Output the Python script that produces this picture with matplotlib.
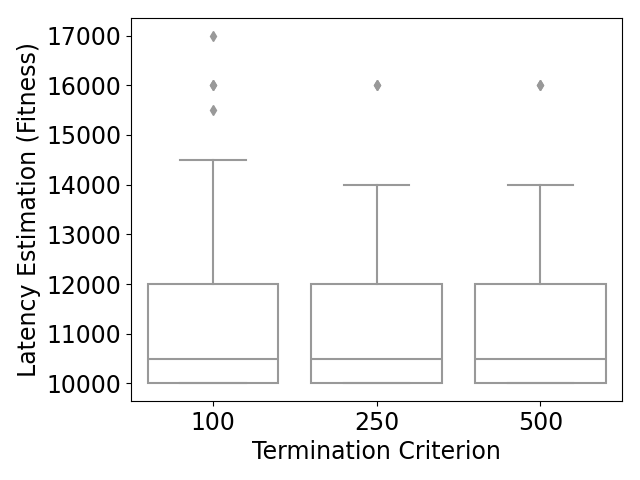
import matplotlib
matplotlib.use("Agg")
import matplotlib.pyplot as plt

categories = ["100", "250", "500"]
q1 = [10000, 10000, 10000]
medians = [10500, 10500, 10500]
q3 = [12000, 12000, 12000]
whisker_low = [10000, 10000, 10000]
whisker_high = [14500, 14000, 14000]
outliers = [[15500, 16000, 16000, 17000], [16000, 16000], [16000, 16000]]

gray = "#999999"
stats = [dict(label=c, q1=a, med=m, q3=b, whislo=lo, whishi=hi, fliers=f)
         for c, a, m, b, lo, hi, f in zip(categories, q1, medians, q3,
                                          whisker_low, whisker_high, outliers)]

fig, ax = plt.subplots(figsize=(6.4, 4.8), dpi=100)
ax.bxp(stats, positions=range(len(categories)), widths=0.8, patch_artist=True,
       boxprops=dict(facecolor="white", edgecolor=gray, linewidth=1.5),
       medianprops=dict(color=gray, linewidth=1.5),
       whiskerprops=dict(color=gray, linewidth=1.5),
       capprops=dict(color=gray, linewidth=1.5),
       flierprops=dict(marker="d", markerfacecolor=gray, markeredgecolor=gray,
                       markersize=5))
ax.set_xlim(-0.5, 2.5)
ax.set_ylim(9650, 17350)
ax.set_yticks(range(10000, 17001, 1000))
ax.tick_params(labelsize=17)
ax.set_xlabel("Termination Criterion", fontsize=17)
ax.set_ylabel("Latency Estimation (Fitness)", fontsize=17)
fig.subplots_adjust(left=0.205, right=0.972, top=0.962, bottom=0.165)
fig.savefig("out.png")
